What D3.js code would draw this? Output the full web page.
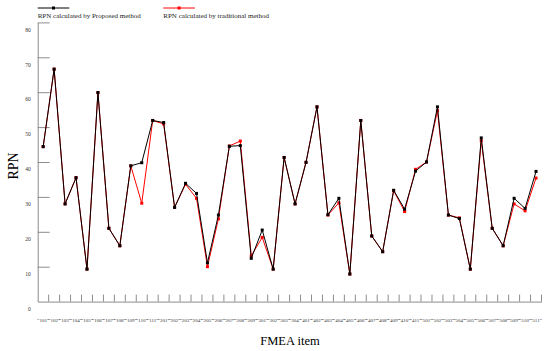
<!DOCTYPE html>
<html>
<head>
<meta charset="utf-8">
<script src="https://cdn.jsdelivr.net/npm/d3@7"></script>
<style>
  body { margin: 0; background: #fff; }
  svg { display: block; font-family: "Liberation Serif", "DejaVu Serif", serif; }
</style>
</head>
<body>
<div id="SVG_CONTAINER"></div>
<script>
// FMEA items on the x axis
const items = ["101","102","103","104","105","106","107","108","109","110","111",
    "201","202","203","204","205","206","207","208","209",
    "301","302","303","304",
    "401","402","403","404","405","406","407","408","409","410","411",
    "501","502","503","504","505","506","507","508","509","510","511"];

// RPN calculated by Proposed method
const proposed = [44.4, 66.6, 28.0, 35.5, 9.3, 59.9, 21.0, 16.0, 38.9, 39.8, 51.9,
    51.3, 27.0, 33.9, 31.0, 11.1, 24.8, 44.5, 44.7, 12.4,
    20.5, 9.3, 41.3, 28.0,
    39.9, 55.8, 24.9, 29.6, 7.9, 51.9, 18.8, 14.3, 31.9, 26.5, 37.4,
    40.0, 55.8, 24.8, 23.8, 9.3, 46.9, 21.0, 16.0, 29.6, 26.7, 37.3];

// RPN calculated by traditional method
const traditional = [44.4, 66.6, 28.0, 35.5, 9.3, 59.9, 21.0, 16.0, 38.9, 28.2, 51.9,
    50.9, 27.0, 33.6, 29.6, 10.0, 23.7, 44.6, 46.0, 13.1,
    18.4, 9.3, 41.3, 28.0,
    39.9, 55.8, 24.8, 28.3, 7.9, 51.9, 18.8, 14.3, 31.8, 25.8, 37.9,
    40.0, 54.7, 24.8, 24.0, 9.3, 46.1, 21.0, 16.0, 28.0, 26.0, 35.4];

const yTicks = [0, 10, 20, 30, 40, 50, 60, 70, 80];

const seriesNames = ["RPN calculated by Proposed method", "RPN calculated by traditional method"];
const seriesColors = ["#000000", "#ff0000"];

const width = 550, height = 351;
const axisColor = "#8c8c8c";

const svg = d3.select("#SVG_CONTAINER")
    .append("svg")
    .attr("width", width)
    .attr("height", height);

// scales
const x = d3.scaleBand()
    .domain(items)
    .range([37.7, 541.5])
    .padding(0);

const y = d3.scaleLinear()
    .domain([0, 80])
    .range([301.6, 22.4]);

const cx = d => x(d) + x.bandwidth() / 2;

// Y axis (ticks point inward, labels sit a bit below their ticks)
const yAxis = svg.append("g")
    .attr("transform", "translate(" + x.range()[0] + ",0)")
    .call(d3.axisLeft(y).tickValues(yTicks).tickSize(-12).tickPadding(7).tickSizeOuter(0));
yAxis.select(".domain").attr("stroke", axisColor);
yAxis.selectAll(".tick line").attr("stroke", axisColor)
    .filter(d => d === 0).remove();
yAxis.selectAll(".tick text")
    .attr("y", 7)
    .attr("fill", "#333")
    .style("font-size", "5.5px")
    .style("font-family", "Liberation Serif, serif");

// X axis line + labels
const xAxis = svg.append("g")
    .attr("transform", "translate(0," + y(0) + ")")
    .call(d3.axisBottom(x).tickSize(0).tickSizeOuter(0).tickPadding(17)
        .tickFormat(d => "\u201C" + d + "\u201D"));
xAxis.select(".domain").attr("stroke", axisColor);
xAxis.selectAll(".tick text")
    .attr("fill", "#333")
    .style("font-size", "5px")
    .style("font-family", "Liberation Serif, serif");

// tick marks between categories, pointing up
const boundaries = items.map(d => x(d)).concat([x.range()[1]]);
svg.append("g")
    .selectAll("line")
    .data(boundaries.slice(1))
    .enter()
    .append("line")
    .attr("x1", d => d)
    .attr("x2", d => d)
    .attr("y1", y(0))
    .attr("y2", y(0) - 7)
    .attr("stroke", axisColor);

// axis titles
svg.append("text")
    .attr("transform", "translate(18," + (y(40) + 4) + ") rotate(-90)")
    .attr("text-anchor", "middle")
    .style("font-size", "14px")
    .text("RPN");

svg.append("text")
    .attr("x", 290)
    .attr("y", 345)
    .attr("text-anchor", "middle")
    .style("font-size", "12.5px")
    .text("FMEA item");

// lines: red first, black on top
const line = d3.line()
    .x((d, i) => cx(items[i]))
    .y(d => y(d));

const series = [traditional, proposed];
const colors = [seriesColors[1], seriesColors[0]];

for (let s = 0; s < series.length; s++) {
    svg.append("path")
        .datum(series[s])
        .attr("fill", "none")
        .attr("stroke", colors[s])
        .attr("stroke-width", 1)
        .attr("d", line);

    svg.append("g")
        .selectAll("rect")
        .data(series[s])
        .enter()
        .append("rect")
        .attr("x", (d, i) => cx(items[i]) - 1.5)
        .attr("y", d => y(d) - 1.5)
        .attr("width", 3)
        .attr("height", 3)
        .attr("fill", colors[s]);
}

// legend
const legendX = [37.7, 163.3];
for (let i = 0; i < seriesNames.length; i++) {
    const lg = svg.append("g").attr("transform", "translate(" + legendX[i] + ",0)");
    lg.append("line")
        .attr("x1", 0).attr("x2", 31.6)
        .attr("y1", 8).attr("y2", 8)
        .attr("stroke", seriesColors[i]);
    lg.append("rect")
        .attr("x", 14.3).attr("y", 6.5)
        .attr("width", 3).attr("height", 3)
        .attr("fill", seriesColors[i]);
    lg.append("text")
        .attr("x", 0)
        .attr("y", 17.5)
        .style("font-size", "7px")
        .attr("fill", "#222")
        .text(seriesNames[i]);
}
</script>
</body>
</html>
